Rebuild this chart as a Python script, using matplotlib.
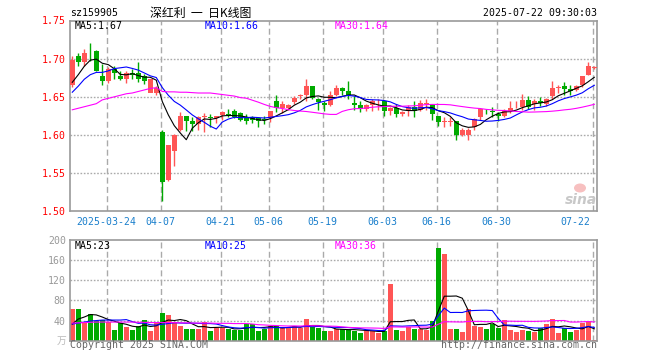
import numpy as np
import matplotlib
matplotlib.use("Agg")
import matplotlib.pyplot as plt
import matplotlib.transforms as mtrans
from matplotlib.patches import Ellipse

# ---------------- data ----------------
opens = [1.665, 1.704, 1.696, 1.712, 1.710, 1.677, 1.671, 1.687, 1.677, 1.674,
         1.681, 1.681, 1.677, 1.655, 1.655, 1.604, 1.541, 1.579, 1.606, 1.625,
         1.618, 1.614, 1.623, 1.623, 1.622, 1.626, 1.628, 1.631, 1.629, 1.624,
         1.623, 1.622, 1.621, 1.622, 1.645, 1.636, 1.635, 1.643, 1.651, 1.653,
         1.664, 1.647, 1.642, 1.639, 1.653, 1.661, 1.657, 1.642, 1.639, 1.634,
         1.639, 1.640, 1.644, 1.631, 1.635, 1.627, 1.631, 1.637, 1.633, 1.641,
         1.639, 1.625, 1.617, 1.617, 1.618, 1.600, 1.600, 1.610, 1.624, 1.632,
         1.632, 1.627, 1.625, 1.631, 1.640, 1.637, 1.646, 1.640, 1.644, 1.640,
         1.651, 1.661, 1.664, 1.660, 1.659, 1.665, 1.679, 1.688]
highs = [1.703, 1.707, 1.713, 1.721, 1.711, 1.693, 1.689, 1.690, 1.684, 1.684,
         1.687, 1.695, 1.680, 1.664, 1.664, 1.606, 1.587, 1.601, 1.630, 1.625,
         1.624, 1.625, 1.629, 1.627, 1.625, 1.632, 1.634, 1.634, 1.630, 1.627,
         1.625, 1.624, 1.625, 1.632, 1.653, 1.645, 1.641, 1.651, 1.654, 1.674,
         1.664, 1.649, 1.644, 1.657, 1.665, 1.663, 1.671, 1.651, 1.644, 1.640,
         1.647, 1.647, 1.644, 1.637, 1.640, 1.631, 1.639, 1.644, 1.646, 1.647,
         1.640, 1.625, 1.624, 1.624, 1.618, 1.609, 1.609, 1.622, 1.636, 1.634,
         1.637, 1.630, 1.634, 1.644, 1.644, 1.654, 1.651, 1.647, 1.650, 1.649,
         1.671, 1.666, 1.669, 1.665, 1.665, 1.677, 1.696, 1.690]
lows = [1.663, 1.690, 1.690, 1.697, 1.684, 1.665, 1.668, 1.673, 1.672, 1.668,
        1.674, 1.669, 1.667, 1.668, 1.652, 1.513, 1.540, 1.559, 1.605, 1.605,
        1.605, 1.606, 1.604, 1.611, 1.616, 1.620, 1.624, 1.622, 1.618, 1.615,
        1.616, 1.611, 1.615, 1.617, 1.630, 1.629, 1.633, 1.640, 1.647, 1.645,
        1.647, 1.633, 1.631, 1.638, 1.651, 1.652, 1.647, 1.633, 1.630, 1.631,
        1.631, 1.633, 1.625, 1.626, 1.624, 1.625, 1.625, 1.624, 1.631, 1.633,
        1.619, 1.612, 1.611, 1.612, 1.594, 1.599, 1.594, 1.606, 1.620, 1.627,
        1.624, 1.618, 1.624, 1.629, 1.636, 1.633, 1.634, 1.633, 1.638, 1.638,
        1.647, 1.655, 1.653, 1.653, 1.658, 1.663, 1.678, 1.686]
closes = [1.698, 1.696, 1.708, 1.711, 1.684, 1.671, 1.687, 1.681, 1.674, 1.681,
          1.679, 1.674, 1.671, 1.673, 1.662, 1.539, 1.587, 1.600, 1.625, 1.618,
          1.614, 1.623, 1.625, 1.622, 1.625, 1.630, 1.626, 1.624, 1.620, 1.618,
          1.620, 1.618, 1.619, 1.632, 1.636, 1.640, 1.639, 1.648, 1.652, 1.664,
          1.649, 1.643, 1.639, 1.652, 1.661, 1.658, 1.652, 1.639, 1.634, 1.639,
          1.644, 1.641, 1.631, 1.635, 1.627, 1.630, 1.637, 1.631, 1.642, 1.642,
          1.627, 1.617, 1.618, 1.618, 1.600, 1.607, 1.607, 1.621, 1.634, 1.631,
          1.630, 1.625, 1.631, 1.636, 1.641, 1.646, 1.637, 1.644, 1.642, 1.647,
          1.661, 1.663, 1.660, 1.658, 1.664, 1.677, 1.690, 1.689]
volumes = [62, 62, 38, 54, 40, 41, 37, 22, 35, 28,
           22, 29, 42, 20, 35, 56, 52, 37, 30, 24,
           24, 24, 38, 20, 26, 26, 23, 22, 22, 33,
           33, 20, 24, 29, 29, 25, 25, 30, 25, 44,
           27, 25, 20, 20, 24, 24, 22, 20, 16, 20,
           20, 16, 20, 112, 22, 20, 28, 24, 24, 22,
           40, 184, 172, 24, 24, 18, 62, 30, 28, 24,
           33, 26, 42, 22, 18, 22, 20, 18, 26, 34,
           44, 16, 26, 18, 22, 36, 40, 2]

# moving-average values before the window fills
ma5_head = [1.669, 1.679, 1.690, 1.698]
ma10_head = [1.656, 1.664, 1.673, 1.679, 1.682, 1.682, 1.684, 1.687, 1.688]
ma30_head = [1.633, 1.635, 1.637, 1.639, 1.641, 1.646, 1.648, 1.650, 1.652, 1.654,
             1.655, 1.657, 1.659, 1.661, 1.662, 1.657, 1.6565, 1.6565, 1.656, 1.656,
             1.6555, 1.655, 1.655, 1.655, 1.654, 1.653, 1.652, 1.651, 1.649]
vma5_head = [33, 43, 47, 52]
vma10_head = [33, 35, 37, 39, 40, 41, 41, 41, 41]
vma30_head = [35, 35.5, 36, 36.5, 37, 37, 37, 37, 37, 37,
              37, 36.5, 36.5, 36, 36, 36, 36, 36, 35.5, 35.5,
              35, 35, 35, 35, 34.5, 34.5, 34.5, 34, 34]

tick_idx = [6, 15, 25, 33, 42, 52, 61, 71, 87]
tick_labels = ['2025-03-24', '04-07', '04-21', '05-06', '05-19',
               '06-03', '06-16', '06-30', '07-22']
price_ticks = [1.50, 1.55, 1.60, 1.65, 1.70, 1.75]
vol_ticks = [40, 80, 120, 160, 200]
price_ma_labels = ['MA5:1.67', 'MA10:1.66', 'MA30:1.64']
vol_ma_labels = ['MA5:23', 'MA10:25', 'MA30:36']

# ---------------- helpers ----------------
def rolling(vals, w, head):
    vv = np.asarray(vals, float)
    out = np.empty(len(vv))
    for i in range(len(vv)):
        out[i] = head[i] if i < w - 1 else vv[i - w + 1:i + 1].mean()
    return out

W, H = 660, 360
RED = '#FF5555'
GREEN = '#00AA00'
GRID = '#AAAAAA'
SPINE = '#999999'
MONO = 'DejaVu Sans Mono'
FS = 7.1
LW = 0.8

o = np.array(opens); h = np.array(highs); l = np.array(lows); c = np.array(closes)
v = np.array(volumes, float)
n = len(c)
x = np.arange(n)
up = c >= o
cols = [RED if u else GREEN for u in up]

ma5 = rolling(c, 5, ma5_head)
ma10 = rolling(c, 10, ma10_head)
ma30 = rolling(c, 30, ma30_head)
vma5 = rolling(v, 5, vma5_head)
vma10 = rolling(v, 10, vma10_head)
vma30 = rolling(v, 30, vma30_head)

fig = plt.figure(figsize=(W / 100, H / 100), dpi=100)
fig.patch.set_facecolor('white')

left, right = 70, 597
m_top, m_bot = 20.5, 211.3
v_top, v_bot = 240, 340.7
ax = fig.add_axes([left / W, 1 - m_bot / H, (right - left) / W, (m_bot - m_top) / H])
axv = fig.add_axes([left / W, 1 - v_bot / H, (right - left) / W, (v_bot - v_top) / H])

xlim = (-0.38, n - 1 + 0.45)
for a in (ax, axv):
    a.set_xlim(*xlim)
    a.set_xticks([])
    for s in a.spines.values():
        s.set_color(SPINE)
        s.set_linewidth(1.2)
    a.tick_params(axis='y', length=0, pad=3, labelsize=FS)
    for t in tick_idx:
        a.axvline(t - 0.25, color=GRID, lw=1.0, dashes=(4.3, 2.4), zorder=0)

# ---- main price panel ----
ax.set_ylim(1.50, 1.75)
ax.set_yticks(price_ticks)
ax.set_yticklabels(['%.2f' % t for t in price_ticks], color='#FF0000', family=MONO)
for t in price_ticks[1:-1]:
    ax.axhline(t, color=GRID, lw=1.0, dashes=(1.2, 1.2), zorder=0)

ax.vlines(x, l, h, colors=cols, lw=1.0, zorder=2)
body_h = np.maximum(np.abs(c - o), 0.0009)
ax.bar(x, body_h, bottom=np.minimum(o, c), width=0.78, color=cols,
       edgecolor=cols, linewidth=0, zorder=3)
ax.plot(x, ma5, color='black', lw=LW, zorder=4)
ax.plot(x, ma10, color='#0000FF', lw=LW, zorder=4)
ax.plot(x, ma30, color='#FF00FF', lw=LW, zorder=4)

# ---- volume panel ----
axv.set_ylim(0, 200)
axv.set_yticks(vol_ticks)
axv.set_yticklabels([str(t) for t in vol_ticks], color='#999999', family=MONO)
for t in vol_ticks[:-1]:
    axv.axhline(t, color=GRID, lw=1.0, dashes=(1.2, 1.2), zorder=0)
axv.bar(x, v, width=0.84, color=cols, linewidth=0, zorder=2)
axv.plot(x, vma5, color='black', lw=LW, zorder=4)
axv.plot(x, vma10, color='#0000FF', lw=LW, zorder=4)
axv.plot(x, vma30, color='#FF00FF', lw=LW, zorder=4)

# ---- texts ----
def ftext(xp, yp, s, **kw):
    kw.setdefault('va', 'center')
    kw.setdefault('fontsize', FS)
    kw.setdefault('family', MONO)
    fig.text(xp / W, 1 - yp / H, s, **kw)

ftext(70, 13, 'sz159905', color='black')
ftext(150, 13, '深红利  一  日K线图', color='black', fontsize=8.6,
      family=['Noto Sans CJK SC', 'DejaVu Sans'])
ftext(597, 13, '2025-07-22 09:30:03', color='black', ha='right')

ma_cols = ['black', '#0000FF', '#FF00FF']
for xp, lab, col in zip([75, 205, 335], price_ma_labels, ma_cols):
    ftext(xp, 26, lab, color=col)
for xp, lab, col in zip([75, 205, 335], vol_ma_labels, ma_cols):
    ftext(xp, 246, lab, color=col)

ftext(70, 345.5, 'Copyright 2025 SINA.COM', color='#666666')
ftext(597, 345.5, 'http://finance.sina.com.cn', color='#666666', ha='right')
ftext(66, 341, '万', color='#BBBBBB', ha='right',
      family=['Noto Sans CJK SC', 'DejaVu Sans'], fontsize=7)

# date labels
tr = mtrans.blended_transform_factory(ax.transData, fig.transFigure)
for i, (t, lab) in enumerate(zip(tick_idx, tick_labels)):
    last = i == len(tick_idx) - 1
    ax.text(t - 0.25 - (0.4 if last else 0), 1 - 221.7 / H, lab,
            transform=tr, ha='right' if last else 'center', va='center',
            fontsize=FS, family=MONO, color='#1A7FCC', clip_on=False)

# sina watermark
ftext(581, 200, 'sina', color='#C8C8C8', ha='center', fontsize=10,
      family='DejaVu Sans', fontweight='bold', style='italic')
fig.patches.append(Ellipse((580 / W, 1 - 188 / H), 12 / W, 9 / H,
                           transform=fig.transFigure, facecolor='#F7C0C0',
                           edgecolor='none', zorder=5))

fig.savefig('out.png', dpi=100, facecolor='white')
